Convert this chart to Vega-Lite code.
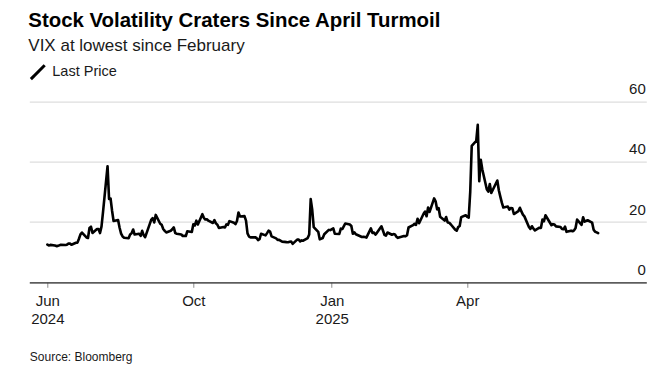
{
  "$schema": "https://vega.github.io/schema/vega-lite/v6.json",
  "width": 617,
  "height": 180.6,
  "autosize": "none",
  "padding": {"left": 29.3, "top": 101.7, "right": 10.7, "bottom": 82.7},
  "background": "#ffffff",
  "title": {
    "text": "Stock Volatility Craters Since April Turmoil",
    "subtitle": "VIX at lowest since February",
    "anchor": "start",
    "frame": "group",
    "font": "Liberation Sans",
    "fontSize": 20.4,
    "fontWeight": "bold",
    "color": "#000000",
    "subtitleFont": "Liberation Sans",
    "subtitleFontSize": 17,
    "subtitleColor": "#1a1a1a",
    "subtitlePadding": 6,
    "offset": 10,
    "dx": -1
  },
  "data": {
    "values": [
      {"d":"2024-06-26","v":12.55},{"d":"2024-06-27","v":12.24},{"d":"2024-06-28","v":12.44},
      {"d":"2024-07-01","v":12.22},{"d":"2024-07-02","v":12.03},{"d":"2024-07-03","v":12.09},{"d":"2024-07-05","v":12.48},
      {"d":"2024-07-08","v":12.37},{"d":"2024-07-09","v":12.51},{"d":"2024-07-10","v":12.85},{"d":"2024-07-11","v":12.91},{"d":"2024-07-12","v":12.46},
      {"d":"2024-07-15","v":13.12},{"d":"2024-07-16","v":13.19},{"d":"2024-07-17","v":14.48},{"d":"2024-07-18","v":15.93},{"d":"2024-07-19","v":16.52},
      {"d":"2024-07-22","v":14.91},{"d":"2024-07-23","v":14.72},{"d":"2024-07-24","v":18.04},{"d":"2024-07-25","v":18.46},{"d":"2024-07-26","v":16.39},
      {"d":"2024-07-29","v":17.69},{"d":"2024-07-30","v":17.69},{"d":"2024-07-31","v":16.36},{"d":"2024-08-01","v":18.59},{"d":"2024-08-02","v":23.39},
      {"d":"2024-08-05","v":38.57},{"d":"2024-08-06","v":27.71},{"d":"2024-08-07","v":27.85},{"d":"2024-08-08","v":23.79},{"d":"2024-08-09","v":20.37},
      {"d":"2024-08-12","v":20.71},{"d":"2024-08-13","v":18.12},{"d":"2024-08-14","v":16.19},{"d":"2024-08-15","v":15.23},{"d":"2024-08-16","v":14.80},
      {"d":"2024-08-19","v":14.65},{"d":"2024-08-20","v":15.88},{"d":"2024-08-21","v":16.27},{"d":"2024-08-22","v":17.55},{"d":"2024-08-23","v":15.86},
      {"d":"2024-08-26","v":16.15},{"d":"2024-08-27","v":15.43},{"d":"2024-08-28","v":17.11},{"d":"2024-08-29","v":15.65},{"d":"2024-08-30","v":15.00},
      {"d":"2024-09-03","v":20.72},{"d":"2024-09-04","v":21.32},{"d":"2024-09-05","v":19.90},{"d":"2024-09-06","v":22.38},
      {"d":"2024-09-09","v":19.45},{"d":"2024-09-10","v":19.08},{"d":"2024-09-11","v":17.69},{"d":"2024-09-12","v":17.07},{"d":"2024-09-13","v":16.56},
      {"d":"2024-09-16","v":17.14},{"d":"2024-09-17","v":17.61},{"d":"2024-09-18","v":18.23},{"d":"2024-09-19","v":16.33},{"d":"2024-09-20","v":16.15},
      {"d":"2024-09-23","v":15.89},{"d":"2024-09-24","v":15.39},{"d":"2024-09-25","v":15.41},{"d":"2024-09-26","v":15.37},{"d":"2024-09-27","v":16.96},
      {"d":"2024-09-30","v":16.73},{"d":"2024-10-01","v":19.26},{"d":"2024-10-02","v":18.90},{"d":"2024-10-03","v":20.49},{"d":"2024-10-04","v":19.21},
      {"d":"2024-10-07","v":22.64},{"d":"2024-10-08","v":21.42},{"d":"2024-10-09","v":20.86},{"d":"2024-10-10","v":20.93},{"d":"2024-10-11","v":20.46},
      {"d":"2024-10-14","v":19.70},{"d":"2024-10-15","v":20.64},{"d":"2024-10-16","v":19.58},{"d":"2024-10-17","v":19.11},{"d":"2024-10-18","v":18.03},
      {"d":"2024-10-21","v":18.37},{"d":"2024-10-22","v":18.20},{"d":"2024-10-23","v":19.24},{"d":"2024-10-24","v":19.08},{"d":"2024-10-25","v":20.33},
      {"d":"2024-10-28","v":19.80},{"d":"2024-10-29","v":19.34},{"d":"2024-10-30","v":20.35},{"d":"2024-10-31","v":23.16},{"d":"2024-11-01","v":21.88},
      {"d":"2024-11-04","v":21.98},{"d":"2024-11-05","v":20.49},{"d":"2024-11-06","v":16.27},{"d":"2024-11-07","v":15.20},{"d":"2024-11-08","v":14.94},
      {"d":"2024-11-11","v":14.97},{"d":"2024-11-12","v":14.71},{"d":"2024-11-13","v":14.02},{"d":"2024-11-14","v":14.31},{"d":"2024-11-15","v":16.14},
      {"d":"2024-11-18","v":15.58},{"d":"2024-11-19","v":16.35},{"d":"2024-11-20","v":17.16},{"d":"2024-11-21","v":16.87},{"d":"2024-11-22","v":15.24},
      {"d":"2024-11-25","v":14.60},{"d":"2024-11-26","v":14.10},{"d":"2024-11-27","v":14.10},{"d":"2024-11-29","v":13.51},
      {"d":"2024-12-02","v":13.34},{"d":"2024-12-03","v":13.30},{"d":"2024-12-04","v":13.45},{"d":"2024-12-05","v":13.54},{"d":"2024-12-06","v":12.77},
      {"d":"2024-12-09","v":14.19},{"d":"2024-12-10","v":14.18},{"d":"2024-12-11","v":13.58},{"d":"2024-12-12","v":13.92},{"d":"2024-12-13","v":13.81},
      {"d":"2024-12-16","v":14.69},{"d":"2024-12-17","v":15.87},{"d":"2024-12-18","v":27.62},{"d":"2024-12-19","v":24.09},{"d":"2024-12-20","v":18.36},
      {"d":"2024-12-23","v":16.78},{"d":"2024-12-24","v":14.27},{"d":"2024-12-26","v":14.73},{"d":"2024-12-27","v":15.95},
      {"d":"2024-12-30","v":17.40},{"d":"2024-12-31","v":17.35},{"d":"2025-01-02","v":17.93},{"d":"2025-01-03","v":16.13},
      {"d":"2025-01-06","v":16.04},{"d":"2025-01-07","v":17.82},{"d":"2025-01-08","v":17.70},{"d":"2025-01-10","v":19.54},
      {"d":"2025-01-13","v":19.19},{"d":"2025-01-14","v":18.71},{"d":"2025-01-15","v":16.12},{"d":"2025-01-16","v":16.60},{"d":"2025-01-17","v":15.97},
      {"d":"2025-01-21","v":15.06},{"d":"2025-01-22","v":15.10},{"d":"2025-01-23","v":15.02},{"d":"2025-01-24","v":14.85},
      {"d":"2025-01-27","v":17.90},{"d":"2025-01-28","v":16.41},{"d":"2025-01-29","v":16.56},{"d":"2025-01-30","v":15.84},{"d":"2025-01-31","v":16.43},
      {"d":"2025-02-03","v":18.62},{"d":"2025-02-04","v":17.21},{"d":"2025-02-05","v":15.77},{"d":"2025-02-06","v":15.50},{"d":"2025-02-07","v":16.54},
      {"d":"2025-02-10","v":15.81},{"d":"2025-02-11","v":16.02},{"d":"2025-02-12","v":15.89},{"d":"2025-02-13","v":15.10},{"d":"2025-02-14","v":14.77},
      {"d":"2025-02-18","v":15.35},{"d":"2025-02-19","v":15.27},{"d":"2025-02-20","v":15.66},{"d":"2025-02-21","v":18.21},
      {"d":"2025-02-24","v":18.98},{"d":"2025-02-25","v":19.43},{"d":"2025-02-26","v":19.10},{"d":"2025-02-27","v":21.13},{"d":"2025-02-28","v":19.63},
      {"d":"2025-03-03","v":22.78},{"d":"2025-03-04","v":23.51},{"d":"2025-03-05","v":21.93},{"d":"2025-03-06","v":24.87},{"d":"2025-03-07","v":23.37},
      {"d":"2025-03-10","v":27.86},{"d":"2025-03-11","v":26.92},{"d":"2025-03-12","v":24.23},{"d":"2025-03-13","v":24.66},{"d":"2025-03-14","v":21.77},
      {"d":"2025-03-17","v":20.51},{"d":"2025-03-18","v":21.70},{"d":"2025-03-19","v":19.90},{"d":"2025-03-20","v":19.80},{"d":"2025-03-21","v":19.28},
      {"d":"2025-03-24","v":17.48},{"d":"2025-03-25","v":17.15},{"d":"2025-03-26","v":18.33},{"d":"2025-03-27","v":18.69},{"d":"2025-03-28","v":21.65},
      {"d":"2025-03-31","v":22.28},{"d":"2025-04-01","v":21.77},{"d":"2025-04-02","v":21.51},{"d":"2025-04-03","v":30.02},{"d":"2025-04-04","v":45.31},
      {"d":"2025-04-07","v":46.98},{"d":"2025-04-08","v":52.33},{"d":"2025-04-09","v":33.62},{"d":"2025-04-10","v":40.72},{"d":"2025-04-11","v":37.56},
      {"d":"2025-04-14","v":30.89},{"d":"2025-04-15","v":30.12},{"d":"2025-04-16","v":32.64},{"d":"2025-04-17","v":29.65},
      {"d":"2025-04-21","v":33.82},{"d":"2025-04-22","v":30.57},{"d":"2025-04-23","v":28.45},{"d":"2025-04-24","v":26.47},{"d":"2025-04-25","v":24.84},
      {"d":"2025-04-28","v":25.15},{"d":"2025-04-29","v":24.17},{"d":"2025-04-30","v":24.70},{"d":"2025-05-01","v":24.60},{"d":"2025-05-02","v":22.68},
      {"d":"2025-05-05","v":23.64},{"d":"2025-05-06","v":24.76},{"d":"2025-05-07","v":23.55},{"d":"2025-05-08","v":22.48},{"d":"2025-05-09","v":21.90},
      {"d":"2025-05-12","v":18.39},{"d":"2025-05-13","v":17.72},{"d":"2025-05-14","v":18.62},{"d":"2025-05-15","v":17.83},{"d":"2025-05-16","v":17.24},
      {"d":"2025-05-19","v":18.14},{"d":"2025-05-20","v":18.09},{"d":"2025-05-21","v":20.87},{"d":"2025-05-22","v":20.28},{"d":"2025-05-23","v":22.29},
      {"d":"2025-05-27","v":18.96},{"d":"2025-05-28","v":19.31},{"d":"2025-05-29","v":19.18},{"d":"2025-05-30","v":18.57},
      {"d":"2025-06-02","v":18.36},{"d":"2025-06-03","v":17.69},{"d":"2025-06-04","v":17.61},{"d":"2025-06-05","v":18.48},{"d":"2025-06-06","v":16.77},
      {"d":"2025-06-09","v":17.16},{"d":"2025-06-10","v":16.95},{"d":"2025-06-11","v":17.26},{"d":"2025-06-12","v":18.02},{"d":"2025-06-13","v":20.82},
      {"d":"2025-06-16","v":19.11},{"d":"2025-06-17","v":21.60},{"d":"2025-06-18","v":20.14},{"d":"2025-06-20","v":20.62},
      {"d":"2025-06-23","v":19.83},{"d":"2025-06-24","v":17.48},{"d":"2025-06-25","v":16.76},{"d":"2025-06-26","v":16.59},{"d":"2025-06-27","v":16.32}
    ]
  },
  "transform": [{"calculate": "'Last Price'", "as": "series"}],
  "mark": {"type": "line", "strokeWidth": 2.6, "strokeJoin": "round", "strokeCap": "round", "clip": false},
  "encoding": {
    "x": {
      "field": "d",
      "type": "temporal",
      "scale": {"domain": [{"year": 2024, "month": 6, "date": 14}, {"year": 2025, "month": 7, "date": 29}], "nice": false},
      "axis": {
        "values": [{"year": 2024, "month": 6, "date": 26}, {"year": 2024, "month": 10, "date": 1}, {"year": 2025, "month": 1, "date": 1}, {"year": 2025, "month": 4, "date": 1}],
        "labelExpr": "(month(datum.value) == 0 || (year(datum.value) == 2024 && month(datum.value) == 5)) ? [timeFormat(datum.value, '%b'), timeFormat(datum.value, '%Y')] : timeFormat(datum.value, '%b')",
        "grid": false,
        "domain": true,
        "domainColor": "#2b2b2b",
        "domainWidth": 1.3,
        "ticks": true,
        "tickColor": "#8c8c8c",
        "tickSize": 5,
        "tickWidth": 1,
        "labelPadding": 6,
        "labelFont": "Liberation Sans",
        "labelFontSize": 15,
        "labelColor": "#1a1a1a",
        "labelLineHeight": 18,
        "labelFlush": false,
        "labelOverlap": false,
        "title": "Source: Bloomberg",
        "titleAnchor": "start",
        "titleAlign": "left",
        "titleBaseline": "middle",
        "titleX": 0,
        "titleY": 74.5,
        "titleFont": "Liberation Sans",
        "titleFontSize": 12,
        "titleFontWeight": "normal",
        "titleColor": "#1a1a1a"
      }
    },
    "y": {
      "field": "v",
      "type": "quantitative",
      "scale": {"domain": [0, 60], "nice": false, "zero": true},
      "axis": {
        "orient": "right",
        "values": [0, 20, 40, 60],
        "grid": true,
        "gridColor": "#dedede",
        "gridWidth": 1.2,
        "domain": false,
        "ticks": false,
        "tickSize": 0,
        "labelAlign": "right",
        "labelBaseline": "middle",
        "labelOffset": -13,
        "labelPadding": -1,
        "labelFont": "Liberation Sans",
        "labelFontSize": 15,
        "labelColor": "#1a1a1a",
        "labelFlush": false,
        "labelOverlap": false,
        "labelBound": false,
        "title": null
      }
    },
    "color": {
      "field": "series",
      "type": "nominal",
      "scale": {"range": ["#000000"]},
      "legend": {
        "title": null,
        "orient": "none",
        "legendX": 0,
        "legendY": -38,
        "padding": 0,
        "symbolType": "M-1,1L1,-1",
        "symbolSize": 190,
        "symbolStrokeWidth": 3,
        "symbolFillColor": "transparent",
        "labelFont": "Liberation Sans",
        "labelFontSize": 14.5,
        "labelColor": "#1a1a1a",
        "labelOffset": 6
      }
    }
  },
  "config": {
    "view": {"stroke": null},
    "font": "Liberation Sans"
  }
}
